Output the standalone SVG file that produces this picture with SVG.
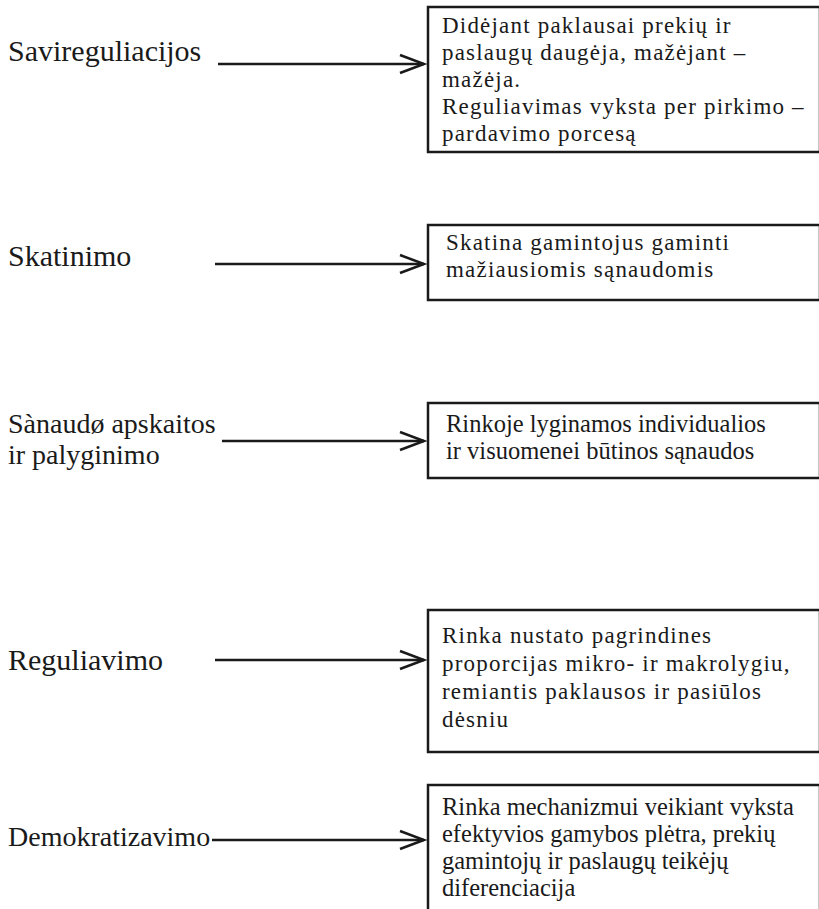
<svg xmlns="http://www.w3.org/2000/svg" width="819" height="909" viewBox="0 0 819 909">
<defs>
<style>
.lbl{font-family:"Liberation Serif","Times New Roman",serif;font-size:30px;fill:#1a1a1a}
.lbc{font-family:"Liberation Serif","Times New Roman",serif;font-size:28px;fill:#1a1a1a}
.txt{font-family:"Liberation Serif","Times New Roman",serif;font-size:23px;letter-spacing:1.2px;fill:#1a1a1a}
.txc{font-family:"Liberation Serif","Times New Roman",serif;font-size:24.5px;fill:#1a1a1a}
.box{fill:#fff;stroke:#1a1a1a;stroke-width:2.5}
.con line{stroke:#1a1a1a;stroke-width:2.5}
.con path{fill:none;stroke:#1a1a1a;stroke-width:2.5;stroke-linejoin:miter}
</style>
</defs>
<rect width="819" height="909" fill="#fff"/>

<g id="n1">
<text class="lbl" x="8" y="61">Savireguliacijos</text>
<rect class="box" x="428" y="7" width="392" height="145"/>
<text class="txt" x="442" y="33">Didėjant paklausai prekių ir</text>
<text class="txt" x="442" y="60">paslaugų daugėja, mažėjant –</text>
<text class="txt" x="442" y="87">mažėja.</text>
<text class="txt" x="442" y="114">Reguliavimas vyksta per pirkimo –</text>
<text class="txt" x="442" y="141">pardavimo porcesą</text>
</g>

<g id="n2">
<text class="lbl" x="8" y="266">Skatinimo</text>
<rect class="box" x="428" y="225" width="392" height="75"/>
<text class="txt" x="446" y="250">Skatina gamintojus gaminti</text>
<text class="txt" x="446" y="277">mažiausiomis sąnaudomis</text>
</g>

<g id="n3">
<text class="lbc" x="8" y="433">Sànaudø apskaitos</text>
<text class="lbc" x="8" y="464">ir palyginimo</text>
<rect class="box" x="428" y="403" width="392" height="75"/>
<text class="txc" x="446" y="432">Rinkoje lyginamos individualios</text>
<text class="txc" x="446" y="459">ir visuomenei būtinos sąnaudos</text>
</g>

<g id="n4">
<text class="lbl" x="8" y="670">Reguliavimo</text>
<rect class="box" x="428" y="610" width="392" height="142"/>
<text class="txt" x="442" y="643">Rinka nustato pagrindines</text>
<text class="txt" x="442" y="671">proporcijas mikro- ir makrolygiu,</text>
<text class="txt" x="442" y="699">remiantis paklausos ir pasiūlos</text>
<text class="txt" x="442" y="727">dėsniu</text>
</g>

<g id="n5">
<text class="lbc" x="8" y="846">Demokratizavimo</text>
<rect class="box" x="428" y="785" width="392" height="130"/>
<text class="txc" x="442" y="815">Rinka mechanizmui veikiant vyksta</text>
<text class="txc" x="442" y="842">efektyvios gamybos plėtra, prekių</text>
<text class="txc" x="442" y="869">gamintojų ir paslaugų teikėjų</text>
<text class="txc" x="442" y="896">diferenciacija</text>
</g>

<g id="connectors" class="con">
<line x1="218" y1="64" x2="424" y2="64"/>
<path d="M400 55 L424 64 L400 73"/>
<line x1="215" y1="264" x2="424" y2="264"/>
<path d="M400 255 L424 264 L400 273"/>
<line x1="222" y1="441" x2="424" y2="441"/>
<path d="M400 432 L424 441 L400 450"/>
<line x1="215" y1="660" x2="424" y2="660"/>
<path d="M400 651 L424 660 L400 669"/>
<line x1="212" y1="840" x2="424" y2="840"/>
<path d="M400 831 L424 840 L400 849"/>
</g>
</svg>
